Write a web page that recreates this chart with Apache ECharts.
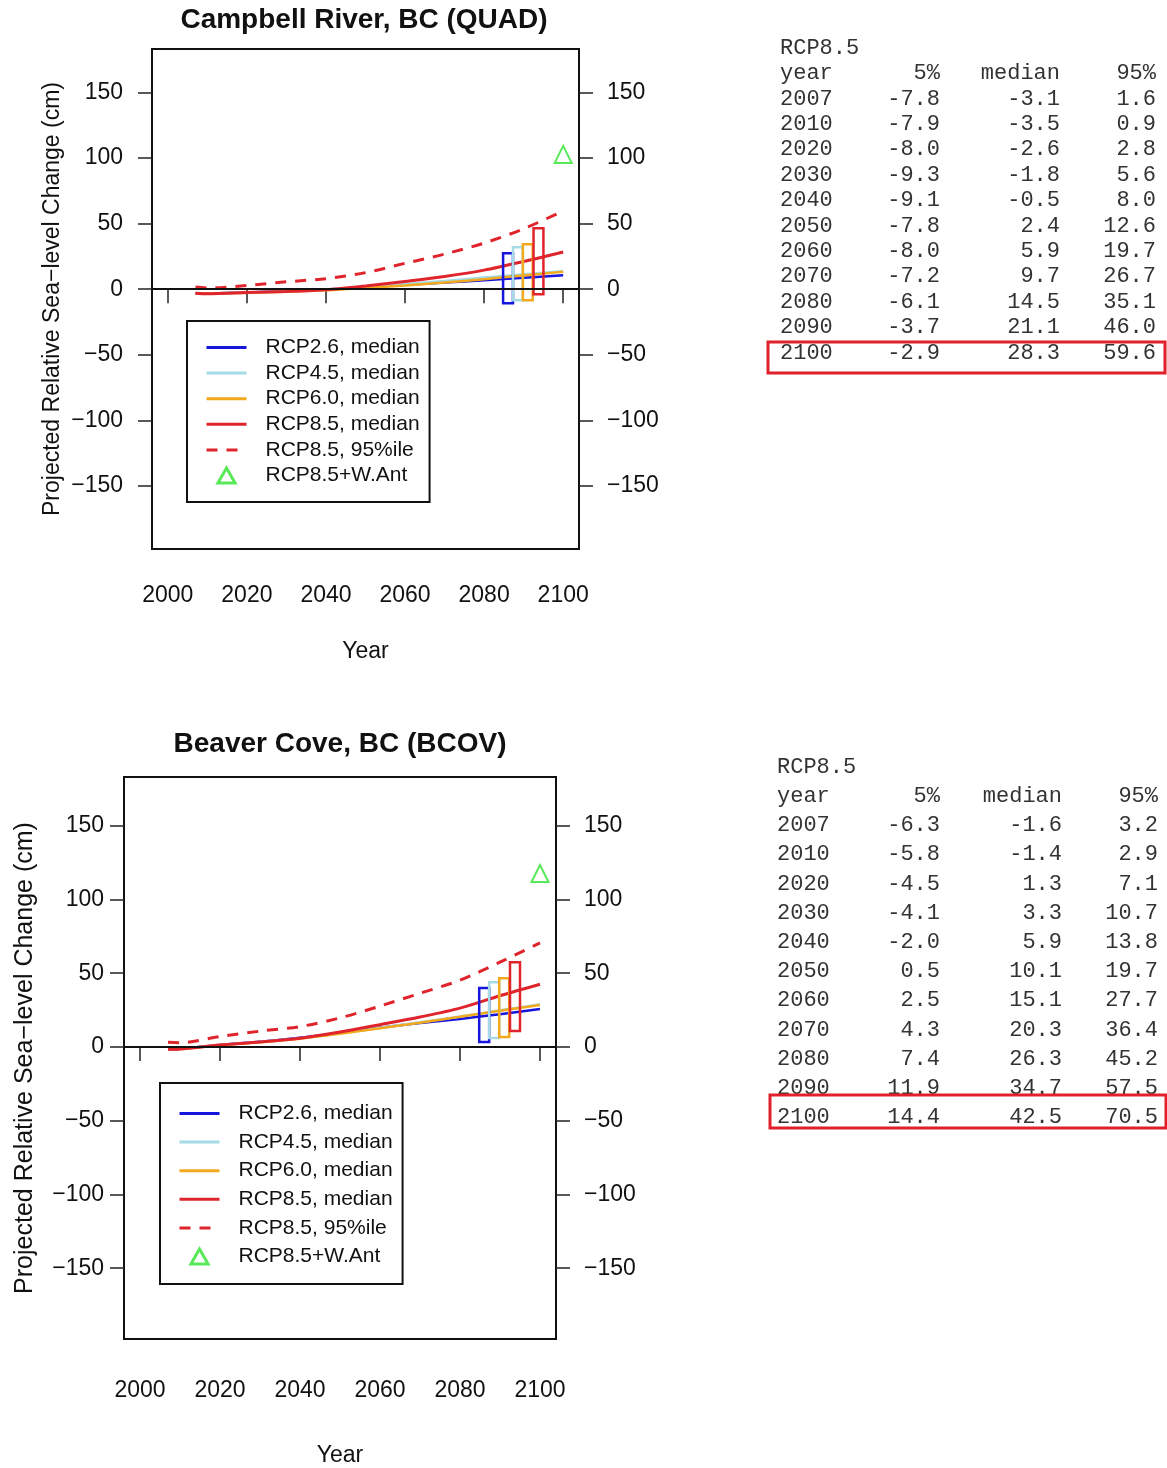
<!DOCTYPE html>
<html>
<head>
<meta charset="utf-8">
<script src="https://cdn.jsdelivr.net/npm/echarts@6/dist/echarts.min.js"></script>
<style>
  html, body { margin: 0; padding: 0; background: #fff; }
  #chart { width: 1167px; height: 1468px; }
</style>
</head>
<body>
<div id="chart"></div>
<script>
// years of the projections
const years = [2007, 2010, 2020, 2030, 2040, 2050, 2060, 2070, 2080, 2090, 2100]

// Campbell River (QUAD)
const quadRcp26 = [-3.1, -3.3, -2.5, -1.5, -0.3, 1.5, 3.3, 5.0, 6.8, 8.7, 10.6]
const quadRcp45 = [-3.1, -3.3, -2.5, -1.6, -0.3, 1.8, 4.0, 6.3, 8.8, 11.3, 13.8]
const quadRcp60 = [-3.1, -3.4, -2.7, -1.9, -0.9, 0.8, 2.8, 5.0, 7.6, 10.4, 13.3]
const quadP5 = [-7.8, -7.9, -8.0, -9.3, -9.1, -7.8, -8.0, -7.2, -6.1, -3.7, -2.9]
const quadMedian = [-3.1, -3.5, -2.6, -1.8, -0.5, 2.4, 5.9, 9.7, 14.5, 21.1, 28.3]
const quadP95 = [1.6, 0.9, 2.8, 5.6, 8.0, 12.6, 19.7, 26.7, 35.1, 46.0, 59.6]
const quadBoxLow = [-10.7, -8.4, -8.4, -3.8]
const quadBoxHigh = [27.4, 32.0, 34.2, 46.4]
const quadWAnt = 102.7

// Beaver Cove (BCOV)
const bcovRcp26 = [-1.6, -1.3, 1.4, 3.5, 6.2, 9.6, 13.0, 16.2, 19.0, 22.2, 25.7]
const bcovRcp45 = [-1.6, -1.3, 1.3, 3.4, 5.9, 9.3, 13.0, 16.8, 20.6, 24.8, 29.0]
const bcovRcp60 = [-1.6, -1.4, 1.2, 3.2, 5.6, 8.9, 12.6, 16.4, 20.5, 24.5, 28.5]
const bcovP5 = [-6.3, -5.8, -4.5, -4.1, -2.0, 0.5, 2.5, 4.3, 7.4, 11.9, 14.4]
const bcovMedian = [-1.6, -1.4, 1.3, 3.3, 5.9, 10.1, 15.1, 20.3, 26.3, 34.7, 42.5]
const bcovP95 = [3.2, 2.9, 7.1, 10.7, 13.8, 19.7, 27.7, 36.4, 45.2, 57.5, 70.5]
const bcovBoxLow = [3.4, 6.1, 6.8, 10.8]
const bcovBoxHigh = [39.9, 43.9, 46.6, 57.4]
const bcovWAnt = 117.6

// 2100 range boxes (RCP2.6, 4.5, 6.0, 8.5), year extent
const boxStart = [2084.8, 2087.3, 2089.8, 2092.5]
const boxEnd = [2087.3, 2089.8, 2092.3, 2095.0]

const xTicks = [2000, 2020, 2040, 2060, 2080, 2100]
const yTicks = [-150, -100, -50, 0, 50, 100, 150]
const legendNames = ['RCP2.6, median', 'RCP4.5, median', 'RCP6.0, median', 'RCP8.5, median', 'RCP8.5, 95%ile', 'RCP8.5+W.Ant']
const tableHeader = ['year', '5%', 'median', '95%']

const BLUE = '#1515dc'
const CYAN = '#a6dbe6'
const ORANGE = '#f2a91e'
const RED = '#e0242c'
const GREEN = '#2ee22e'
const boxColors = [BLUE, CYAN, ORANGE, RED]
const FONT = '"Liberation Sans", Arial, sans-serif'
const MONO = '"Liberation Mono", "Courier New", monospace'

const zip = (arr) => years.map((y, i) => [y, arr[i]])
const minus = (v) => (v < 0 ? '\u2212' + Math.abs(v) : String(v))

// 两个面板的布局
const panels = [
  {
    grid: { left: 152, top: 49, width: 427, height: 500 },
    title: 'Campbell River, BC (QUAD)', titleX: 364, titleY: 20,
    yNameSize: 23, yNameGap: 88, xNameGap: 91, xLabelMargin: 35, yLabelMargin: 29,
    legend: { left: 187, top: 321, itemGap: 4.6, padding: [16, 10, 16, 18] },
    lines: [quadRcp26, quadRcp45, quadRcp60, quadMedian, quadP95],
    boxLow: quadBoxLow, boxHigh: quadBoxHigh, wAnt: quadWAnt,
    table: { x: 780, y: 48, rowH: 25.4, cols: [940, 1060, 1156], rect: [768, 342, 397, 31] },
    p5: quadP5, median: quadMedian, p95: quadP95,
  },
  {
    grid: { left: 124, top: 777, width: 432, height: 564 },
    title: 'Beaver Cove, BC (BCOV)', titleX: 340, titleY: 744,
    yNameSize: 25, yNameGap: 86, xNameGap: 105, xLabelMargin: 40, yLabelMargin: 20,
    legend: { left: 160, top: 1083, itemGap: 7.6, padding: [20, 10, 17, 18] },
    lines: [bcovRcp26, bcovRcp45, bcovRcp60, bcovMedian, bcovP95],
    boxLow: bcovBoxLow, boxHigh: bcovBoxHigh, wAnt: bcovWAnt,
    table: { x: 777, y: 767, rowH: 29.2, cols: [940, 1062, 1158], rect: [770, 1095, 396, 33] },
    p5: bcovP5, median: bcovMedian, p95: bcovP95,
  },
]

const tickStyle = { show: true, length: 14, lineStyle: { color: '#222', width: 1.5 } }
const labelStyle = { fontSize: 23, color: '#111', fontFamily: FONT }
const lineColors = [BLUE, CYAN, ORANGE, RED, RED]

const grids = []
const xAxes = []
const yAxes = []
const legends = []
const series = []
const graphics = []

panels.forEach((p, k) => {
  grids.push({ ...p.grid, show: true, borderColor: '#111', borderWidth: 2, backgroundColor: 'transparent' })

  xAxes.push({
    gridIndex: k, type: 'value', min: 1996, max: 2104,
    name: 'Year', nameLocation: 'middle', nameGap: p.xNameGap,
    nameTextStyle: { fontSize: 23, color: '#111', fontFamily: FONT },
    axisLine: { show: false }, splitLine: { show: false },
    axisTick: { ...tickStyle, customValues: xTicks },
    axisLabel: { ...labelStyle, margin: p.xLabelMargin, customValues: xTicks, formatter: (v) => String(v) },
  })

  ;['left', 'right'].forEach((pos) => {
    yAxes.push({
      gridIndex: k, type: 'value', position: pos, min: -198, max: 183,
      name: pos === 'left' ? 'Projected Relative Sea\u2212level Change (cm)' : '',
      nameLocation: 'middle', nameGap: p.yNameGap,
      nameTextStyle: { fontSize: p.yNameSize, color: '#111', fontFamily: FONT },
      axisLine: { show: false }, splitLine: { show: false },
      axisTick: { ...tickStyle, customValues: yTicks },
      axisLabel: { ...labelStyle, margin: pos === 'left' ? p.yLabelMargin : 28, customValues: yTicks, formatter: minus },
    })
  })

  // 线条图例隐藏圆点, 三角保留比例
  legends.push({
    left: p.legend.left, top: p.legend.top, orient: 'vertical',
    data: legendNames.map((n, i) => (i === 5
      ? { name: n, icon: 'path://M8,0L16,14L0,14Z', itemStyle: { color: '#fff', borderColor: GREEN, borderWidth: 3 } }
      : { name: n, itemStyle: { opacity: 0 }, lineStyle: { width: 3 } })),
    itemWidth: 40, itemHeight: 15, itemGap: p.legend.itemGap,
    padding: p.legend.padding, borderColor: '#111', borderWidth: 2,
    selectedMode: false, symbolKeepAspect: true,
    textStyle: { fontSize: 21, color: '#111', fontFamily: FONT, padding: [0, 0, 0, 14] },
  })

  const axisRef = { xAxisIndex: k, yAxisIndex: k * 2 }
  p.lines.forEach((arr, i) => {
    series.push({
      ...axisRef, type: 'line', name: legendNames[i], data: zip(arr),
      symbol: 'none', smooth: 0.3, z: 3,
      color: lineColors[i],
      lineStyle: { color: lineColors[i], width: i >= 3 ? 3 : 2.5, type: i === 4 ? [11, 9] : 'solid' },
      markLine: i === 0 ? {
        silent: true, symbol: 'none', label: { show: false },
        lineStyle: { color: '#111', width: 2, type: 'solid' },
        data: [{ yAxis: 0 }],
      } : undefined,
    })
  })

  series.push({
    ...axisRef, type: 'custom', z: 4,
    data: boxStart.map((s, i) => [s, boxEnd[i], p.boxLow[i], p.boxHigh[i]]),
    renderItem: (params, api) => {
      const a = api.coord([api.value(0), api.value(3)])
      const b = api.coord([api.value(1), api.value(2)])
      return {
        type: 'rect',
        shape: { x: a[0], y: a[1], width: b[0] - a[0], height: b[1] - a[1] },
        style: { fill: 'none', stroke: boxColors[params.dataIndex], lineWidth: 2.5 },
      }
    },
  })

  series.push({
    ...axisRef, type: 'scatter', name: legendNames[5], data: [[2100, p.wAnt]],
    symbol: 'emptyTriangle', symbolSize: 17, z: 5,
    itemStyle: { color: GREEN, borderColor: GREEN, borderWidth: 3 },
  })

  // 标题
  graphics.push({
    type: 'text', x: p.titleX, y: p.titleY,
    style: { text: p.title, font: 'bold 28px ' + FONT, fill: '#111', align: 'center', verticalAlign: 'middle' },
  })

  // 右侧表格
  const t = p.table
  const rowText = (row, txt, colIdx) => graphics.push({
    type: 'text',
    x: colIdx < 0 ? t.x : t.cols[colIdx],
    y: t.y + row * t.rowH,
    style: { text: txt, font: '22px ' + MONO, fill: '#333', align: colIdx < 0 ? 'left' : 'right', verticalAlign: 'middle' },
  })
  rowText(0, 'RCP8.5', -1)
  rowText(1, tableHeader[0], -1)
  tableHeader.slice(1).forEach((h, c) => rowText(1, h, c))
  years.forEach((y, r) => {
    rowText(r + 2, String(y), -1)
    ;[p.p5, p.median, p.p95].forEach((arr, c) => rowText(r + 2, arr[r].toFixed(1), c))
  })
  graphics.push({
    type: 'rect',
    shape: { x: t.rect[0], y: t.rect[1], width: t.rect[2], height: t.rect[3] },
    style: { fill: 'none', stroke: '#e0202a', lineWidth: 3 },
  })
})

const chart = echarts.init(document.getElementById('chart'))
chart.setOption({
  animation: false,
  backgroundColor: '#fff',
  grid: grids,
  xAxis: xAxes,
  yAxis: yAxes,
  legend: legends,
  series,
  graphic: graphics,
})
</script>
</body>
</html>
